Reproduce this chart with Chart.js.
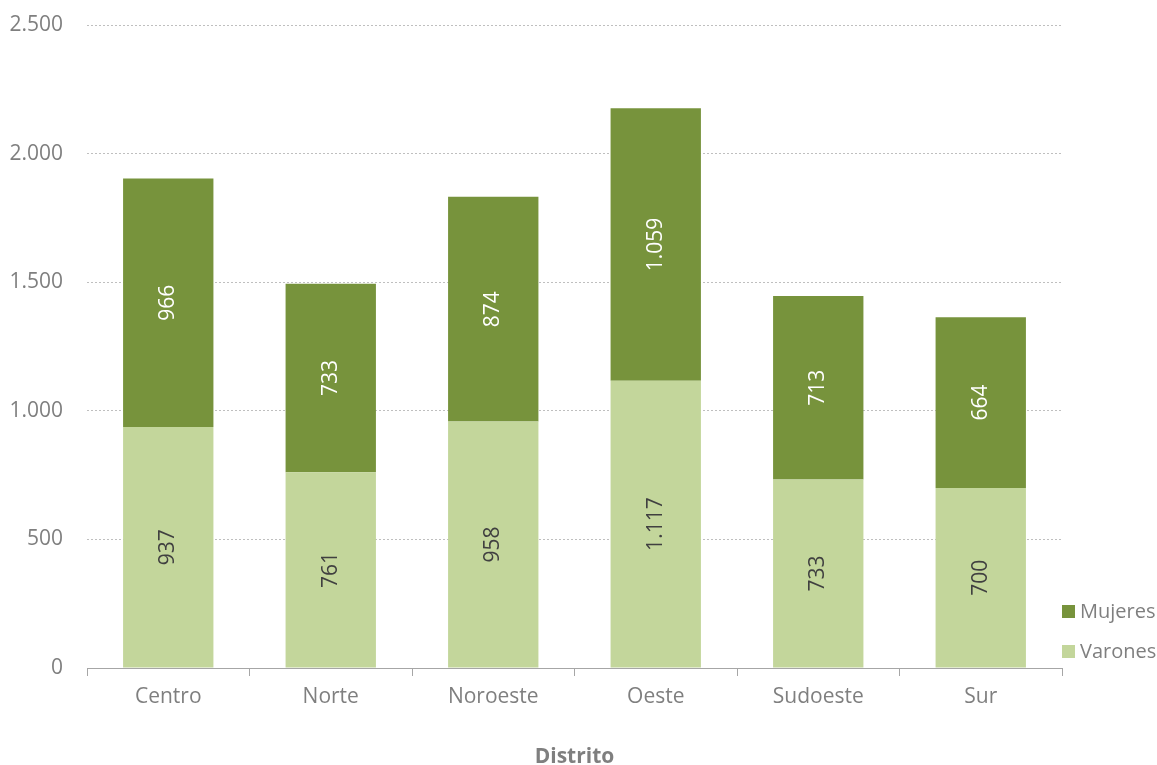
<!DOCTYPE html>
<html><head><meta charset="utf-8">
<script src="https://cdn.jsdelivr.net/npm/chart.js@4/dist/chart.umd.min.js"></script>
<style>html,body{margin:0;padding:0;background:#fff}#wrap{width:1157px;height:765px}</style>
</head><body><div id="wrap"><canvas id="c" width="1157" height="765"></canvas></div>
<script>
const categories = ['Centro','Norte','Noroeste','Oeste','Sudoeste','Sur'];
const varones = [937, 761, 958, 1117, 733, 700];
const mujeres = [966, 733, 874, 1059, 713, 664];
const yTicks = [0, 500, 1000, 1500, 2000, 2500];
const legendOrder = ['Mujeres', 'Varones'];

function fmt(v){ return String(v).replace(/\B(?=(\d{3})+(?!\d))/g, '.'); }

const labelPlugin = {
  id: 'barLabels',
  afterDatasetsDraw(chart){
    const ctx = chart.ctx;
    chart.data.datasets.forEach((ds, i) => {
      const meta = chart.getDatasetMeta(i);
      meta.data.forEach((el, j) => {
        const cx = el.x, cy = (el.y + el.base) / 2;
        ctx.save();
        ctx.translate(cx, cy);
        ctx.rotate(-Math.PI / 2);
        ctx.font = '21px "Open Sans"';
        ctx.fillStyle = ds.labelColor;
        ctx.textAlign = 'center';
        ctx.textBaseline = 'middle';
        ctx.fillText(fmt(ds.data[j]), 0, 0);
        ctx.restore();
      });
    });
  }
};

const legendPlugin = {
  id: 'sideLegend',
  afterDraw(chart){
    const ctx = chart.ctx, a = chart.chartArea;
    const rows = [a.bottom - 56, a.bottom - 16];
    legendOrder.forEach((name, k) => {
      const ds = chart.data.datasets.find(d => d.label === name);
      const y = rows[k];
      ctx.save();
      ctx.fillStyle = ds.backgroundColor;
      ctx.fillRect(a.right, y - 7, 13, 13);
      ctx.font = '20px "Open Sans"';
      ctx.fillStyle = '#7f7f7f';
      ctx.textAlign = 'left';
      ctx.textBaseline = 'middle';
      ctx.fillText(name, a.right + 18, y);
      ctx.restore();
    });
  }
};

new Chart(document.getElementById('c'), {
  type: 'bar',
  data: {
    labels: categories,
    datasets: [
      { label: 'Varones', data: varones, backgroundColor: '#c3d69b', labelColor: '#404040' },
      { label: 'Mujeres', data: mujeres, backgroundColor: '#77933c', labelColor: '#ffffff' }
    ]
  },
  options: {
    responsive: false,
    animation: false,
    layout: { autoPadding: false, padding: { top: 25, right: 95, bottom: 0, left: 0 } },
    datasets: { bar: { categoryPercentage: 0.556, barPercentage: 1 } },
    plugins: {
      legend: { display: false },
      tooltip: { enabled: false }
    },
    scales: {
      x: {
        stacked: true,
        afterFit(axis){ axis.height = 97; },
        grid: { display: true, drawOnChartArea: false, drawTicks: true, tickLength: 8, color: '#a6a6a6', offset: true },
        border: { display: true, color: '#a6a6a6' },
        ticks: { color: '#7f7f7f', font: { family: 'Open Sans', size: 21 }, padding: 8 },
        title: { display: true, text: 'Distrito', color: '#7f7f7f', font: { family: 'Open Sans', size: 21, weight: 'bold' }, padding: { top: 20, bottom: -5 } }
      },
      y: {
        stacked: true,
        min: 0, max: 2500,
        afterBuildTicks(axis){ axis.ticks = yTicks.map(v => ({ value: v })); },
        afterFit(axis){ axis.width = 87; axis.paddingTop = 0; axis.paddingBottom = 0; },
        grid: { color: '#bfbfbf', drawTicks: false },
        border: { display: false, dash: [2, 2] },
        ticks: { color: '#7f7f7f', font: { family: 'Open Sans', size: 21 }, padding: 24, callback: v => fmt(v) }
      }
    }
  },
  plugins: [labelPlugin, legendPlugin]
});
</script></body></html>
